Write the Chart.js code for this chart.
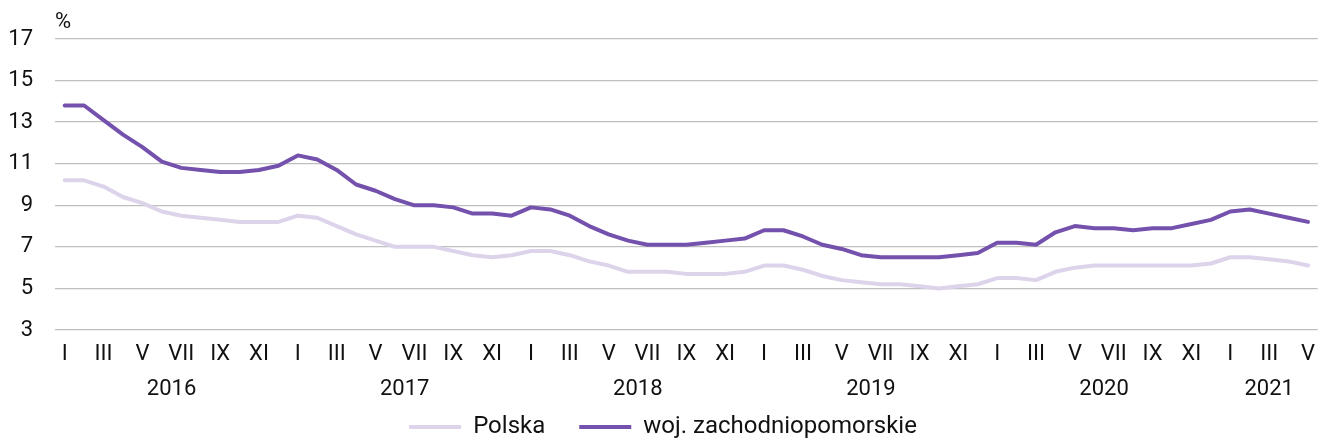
<!DOCTYPE html>
<html>
<head>
<meta charset="utf-8">
<script src="https://cdn.jsdelivr.net/npm/chart.js@4/dist/chart.umd.min.js"></script>
<style>
  html, body { margin: 0; padding: 0; background: #fff; overflow: hidden; }
  #wrap { width: 1326px; height: 449px; position: relative; }
</style>
</head>
<body>
<div id="wrap"><canvas id="line-chart"></canvas></div>
<script>
const years = ['2016', '2017', '2018', '2019', '2020', '2021'];
const months = ['I', 'II', 'III', 'IV', 'V', 'VI', 'VII', 'VIII', 'IX', 'X', 'XI', 'XII'];
const yTicks = [3, 5, 7, 9, 11, 13, 15, 17];

const polska = [10.2, 10.2, 9.9, 9.4, 9.1, 8.7, 8.5, 8.4, 8.3, 8.2, 8.2, 8.2,
  8.5, 8.4, 8.0, 7.6, 7.3, 7.0, 7.0, 7.0, 6.8, 6.6, 6.5, 6.6,
  6.8, 6.8, 6.6, 6.3, 6.1, 5.8, 5.8, 5.8, 5.7, 5.7, 5.7, 5.8,
  6.1, 6.1, 5.9, 5.6, 5.4, 5.3, 5.2, 5.2, 5.1, 5.0, 5.1, 5.2,
  5.5, 5.5, 5.4, 5.8, 6.0, 6.1, 6.1, 6.1, 6.1, 6.1, 6.1, 6.2,
  6.5, 6.5, 6.4, 6.3, 6.1];

const zachodniopomorskie = [13.8, 13.8, 13.1, 12.4, 11.8, 11.1, 10.8, 10.7, 10.6, 10.6, 10.7, 10.9,
  11.4, 11.2, 10.7, 10.0, 9.7, 9.3, 9.0, 9.0, 8.9, 8.6, 8.6, 8.5,
  8.9, 8.8, 8.5, 8.0, 7.6, 7.3, 7.1, 7.1, 7.1, 7.2, 7.3, 7.4,
  7.8, 7.8, 7.5, 7.1, 6.9, 6.6, 6.5, 6.5, 6.5, 6.5, 6.6, 6.7,
  7.2, 7.2, 7.1, 7.7, 8.0, 7.9, 7.9, 7.8, 7.9, 7.9, 8.1, 8.3,
  8.7, 8.8, 8.6, 8.4, 8.2];

const labels = polska.map((v, i) => months[i % 12]);

const FONT = 'Roboto, sans-serif';
const TXT = '#111';

// years centred under their months, plus the "%" unit
const extraText = {
  id: 'extraText',
  afterDraw(chart) {
    const ctx = chart.ctx;
    const x = chart.scales.x;
    const area = chart.chartArea;
    ctx.save();
    ctx.fillStyle = TXT;
    ctx.font = '22px ' + FONT;
    ctx.textBaseline = 'middle';
    ctx.textAlign = 'center';
    years.forEach((y, k) => {
      const first = k * 12;
      const last = Math.min(first + 11, labels.length - 1);
      ctx.fillText(y, x.getPixelForValue((first + last) / 2), area.bottom + 59);
    });
    ctx.textAlign = 'left';
    ctx.fillText('%', area.left, area.top - 17);
    ctx.restore();
  }
};

new Chart(document.getElementById('line-chart'), {
  type: 'line',
  data: {
    labels: labels,
    datasets: [
      {
        label: 'Polska',
        data: polska,
        borderColor: '#ddd3ea',
        backgroundColor: '#ddd3ea',
        borderWidth: 4,
        pointRadius: 0,
        tension: 0,
        borderCapStyle: 'round',
        borderJoinStyle: 'round'
      },
      {
        label: 'woj. zachodniopomorskie',
        data: zachodniopomorskie,
        borderColor: '#7451ad',
        backgroundColor: '#7451ad',
        borderWidth: 4,
        pointRadius: 0,
        tension: 0,
        borderCapStyle: 'round',
        borderJoinStyle: 'round'
      }
    ]
  },
  options: {
    responsive: true,
    maintainAspectRatio: false,
    animation: false,
    layout: { padding: { top: 39, left: 0, right: 0, bottom: 0 } },
    plugins: {
      tooltip: { enabled: false },
      legend: {
        position: 'bottom',
        labels: {
          usePointStyle: true,
          pointStyle: 'line',
          pointStyleWidth: 52,
          padding: 34,
          color: TXT,
          font: { family: FONT, size: 24 }
        }
      }
    },
    scales: {
      x: {
        offset: true,
        grid: { display: false, drawTicks: false },
        border: { display: false },
        ticks: {
          autoSkip: false,
          maxRotation: 0,
          padding: 11,
          color: TXT,
          font: { family: FONT, size: 22 },
          callback: (v, i) => (i % 2 === 0 ? labels[i] : '')
        },
        afterFit: s => { s.height = 51; }
      },
      y: {
        min: 3,
        max: 17,
        afterBuildTicks: s => { s.ticks = yTicks.map(v => ({ value: v })); },
        grid: { color: '#bfbfbf', lineWidth: 1.3, drawTicks: false },
        border: { display: false },
        ticks: {
          padding: 22,
          color: TXT,
          font: { family: FONT, size: 22 }
        },
        afterFit: s => { s.width = 55; }
      }
    }
  },
  plugins: [extraText]
});
</script>
</body>
</html>
